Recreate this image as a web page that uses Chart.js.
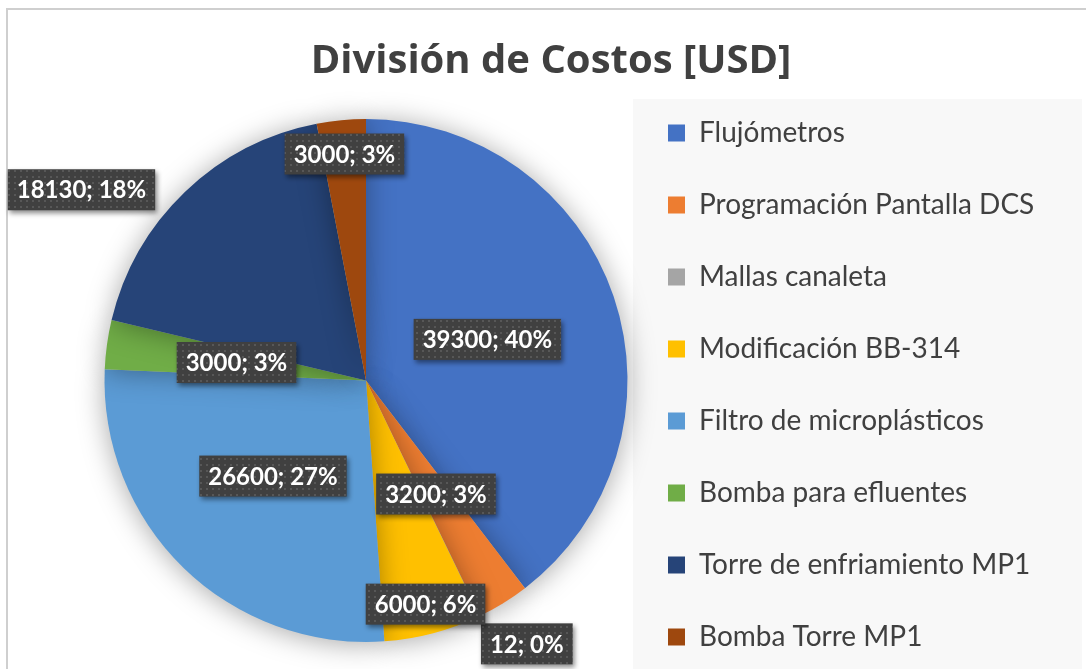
<!DOCTYPE html>
<html>
<head>
<meta charset="utf-8">
<script src="https://cdn.jsdelivr.net/npm/chart.js@4"></script>
<style>
  html, body { margin: 0; padding: 0; background: #fff; }
  #frame { position: absolute; left: 6px; top: 8px; width: 1090px; height: 670px; border-left: 2px solid #cfcfcf; border-top: 2px solid #cfcfcf; }
  #wrap { position: absolute; left: 0; top: 0; width: 1086px; height: 669px; }
</style>
</head>
<body>
<div id="frame"></div>
<div id="wrap"><canvas id="chartCostos"></canvas></div>
<script>
const categorias = ['Flujómetros', 'Programación Pantalla DCS', 'Mallas canaleta', 'Modificación BB-314',
  'Filtro de microplásticos', 'Bomba para efluentes', 'Torre de enfriamiento MP1', 'Bomba Torre MP1'];
const costos = [39300, 3200, 12, 6000, 26600, 3000, 18130, 3000];
const colores = ['#4472C4', '#ED7D31', '#A5A5A5', '#FFC000', '#5B9BD5', '#70AD47', '#264478', '#9E480E'];

// where each label sits: fraction of radius, and angle shift in degrees
const etiquetaPos = [[0.49, 0], [0.51, 0], [1.18, -5.6], [0.885, 0], [0.51, 0], [0.5, 0], [1.31, -12.4], [0.87, 0]];

function patronOscuro(ctx) {
  const c = document.createElement('canvas');
  c.width = 6; c.height = 6;
  const p = c.getContext('2d');
  p.fillStyle = '#404040';
  p.fillRect(0, 0, 6, 6);
  p.fillStyle = '#575757';
  p.fillRect(2, 2, 2, 2);
  return ctx.createPattern(c, 'repeat');
}

// legend panel background, and let the legend use the whole right side
const panelLeyenda = {
  id: 'panelLeyenda',
  afterLayout(chart) {
    const lg = chart.legend;
    lg.left = 624;
    lg.top = 75;
    lg.bottom = 740;
    lg.right = 1086;
  },
  beforeDraw(chart) {
    const ctx = chart.ctx;
    ctx.save();
    ctx.fillStyle = '#f8f8f8';
    ctx.fillRect(633, 99, 449, 570);
    ctx.restore();
  }
};

const sombraPie = {
  id: 'sombraPie',
  beforeDatasetsDraw(chart) {
    const ctx = chart.ctx;
    ctx.save();
    ctx.shadowColor = 'rgba(0,0,0,0.35)';
    ctx.shadowBlur = 28;
    ctx.shadowOffsetX = 0;
    ctx.shadowOffsetY = 2;
  },
  afterDatasetsDraw(chart) {
    chart.ctx.restore();
  }
};

const etiquetas = {
  id: 'etiquetas',
  afterDatasetsDraw(chart) {
    const ctx = chart.ctx;
    const meta = chart.getDatasetMeta(0);
    const total = costos.reduce((a, b) => a + b, 0);
    const pat = patronOscuro(ctx);
    ctx.save();
    ctx.font = 'bold 24px Lato';
    ctx.textAlign = 'center';
    ctx.textBaseline = 'middle';
    meta.data.forEach((arc, i) => {
      const mid = (arc.startAngle + arc.endAngle) / 2 + etiquetaPos[i][1] * Math.PI / 180;
      const r = arc.outerRadius * etiquetaPos[i][0];
      const x = arc.x + Math.cos(mid) * r;
      const y = arc.y + Math.sin(mid) * r;
      const txt = costos[i] + '; ' + Math.round(costos[i] / total * 100) + '%';
      const w = ctx.measureText(txt).width + 18;
      const h = 41;
      ctx.save();
      ctx.shadowColor = 'rgba(0,0,0,0.45)';
      ctx.shadowBlur = 5;
      ctx.shadowOffsetX = 2;
      ctx.shadowOffsetY = 3;
      ctx.fillStyle = pat;
      ctx.fillRect(x - w / 2, y - h / 2, w, h);
      ctx.restore();
      ctx.fillStyle = '#ffffff';
      ctx.fillText(txt, x, y + 1);
    });
    ctx.restore();
  }
};

new Chart(document.getElementById('chartCostos'), {
  type: 'pie',
  data: {
    labels: categorias,
    datasets: [{
      data: costos,
      backgroundColor: colores,
      borderWidth: 0
    }]
  },
  options: {
    responsive: true,
    maintainAspectRatio: false,
    animation: false,
    layout: { padding: { left: 104, right: 88, bottom: 27 } },
    plugins: {
      title: {
        display: true,
        text: 'División de Costos [USD]',
        color: '#404040',
        font: { family: 'Open Sans', size: 40, weight: 'bold' },
        padding: { top: 38, bottom: 33 }
      },
      legend: {
        position: 'right',
        align: 'start',
        fullSize: false,
        maxWidth: 370,
        labels: {
          color: '#404040',
          font: { family: 'Lato', size: 28 },
          boxWidth: 17,
          boxHeight: 17,
          padding: 44
        }
      },
      tooltip: { enabled: false }
    }
  },
  plugins: [panelLeyenda, sombraPie, etiquetas]
});
</script>
</body>
</html>
